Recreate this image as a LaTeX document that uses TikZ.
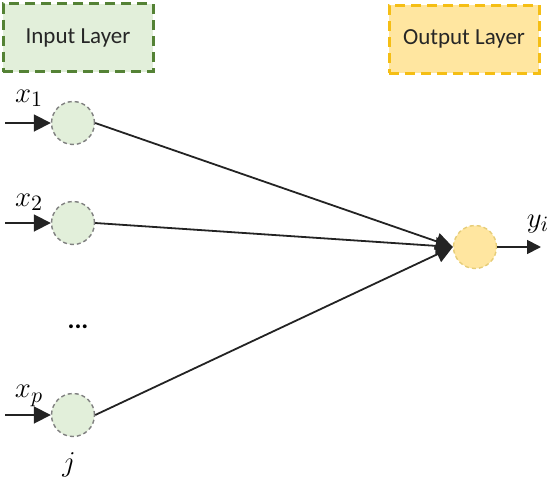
\documentclass[tikz,border=0pt]{standalone}
\usepackage{fontspec}
\setmainfont{Carlito}
\usetikzlibrary{arrows.meta,positioning}

\definecolor{inpfill}{RGB}{226,239,218}
\definecolor{inpedge}{RGB}{84,130,53}
\definecolor{outfill}{RGB}{255,230,160}
\definecolor{outedge}{RGB}{245,190,20}
\definecolor{outring}{RGB}{230,205,120}
\definecolor{linkcol}{RGB}{35,35,35}

\begin{document}
\begin{tikzpicture}[x=0.5pt, y=-0.5pt, font=\fontsize{11.5}{13}\selectfont]
\tikzstyle{layerbox}=[rectangle, draw, line width=1.5pt, dash pattern=on 5pt off 3pt, minimum width=75pt, minimum height=34pt, align=center, text=black!85]
\tikzstyle{neuron}=[circle, draw=gray, line width=0.7pt, dash pattern=on 2pt off 1.5pt, minimum size=21.5pt, inner sep=0pt]
\tikzstyle{link}=[draw=linkcol, line width=0.9pt, -{Triangle[length=8.5pt, width=8.5pt]}]
\tikzstyle{lbl}=[font=\fontsize{15}{17}\selectfont, inner sep=0pt]
\useasboundingbox (0,0) rectangle (551,482);
% layer headers
\node[layerbox, fill=inpfill, draw=inpedge] (inlayer) at (78,37.5) {Input Layer};
\node[layerbox, fill=outfill, draw=outedge] (outlayer) at (464,39) {Output Layer};
% neurons
\node[neuron, fill=inpfill] (n1) at (73,123) {};
\node[neuron, fill=inpfill] (n2) at (73,223) {};
\node[neuron, fill=inpfill] (np) at (73,415) {};
\node[neuron, fill=outfill, draw=outring] (out) at (475,247) {};
\node[font=\bfseries\fontsize{13}{15}\selectfont] (dots) at (78,327) {...};
% inputs
\coordinate (in1) at (5,123);
\coordinate (in2) at (5,223);
\coordinate (inp) at (5,415);
\coordinate (yout) at (541,247);
\draw[link] (in1) -- (n1);
\draw[link] (in2) -- (n2);
\draw[link] (inp) -- (np);
\draw[link] (n1.east) -- (out.west);
\draw[link] (n2.east) -- (out.west);
\draw[link] (np.east) -- (out.west);
\draw[link, -{Triangle[length=7pt, width=7pt]}] (out.east) -- (yout);
% labels
\node[lbl] (lx1) at (29,98) {$x_1$};
\node[lbl] (lx2) at (29,202) {$x_2$};
\node[lbl] (lxp) at (29,396) {$x_p$};
\node[lbl] (lj) at (69,465) {$j$};
\node[lbl] (lyi) at (538,224) {$y_i$};
\end{tikzpicture}
\end{document}
